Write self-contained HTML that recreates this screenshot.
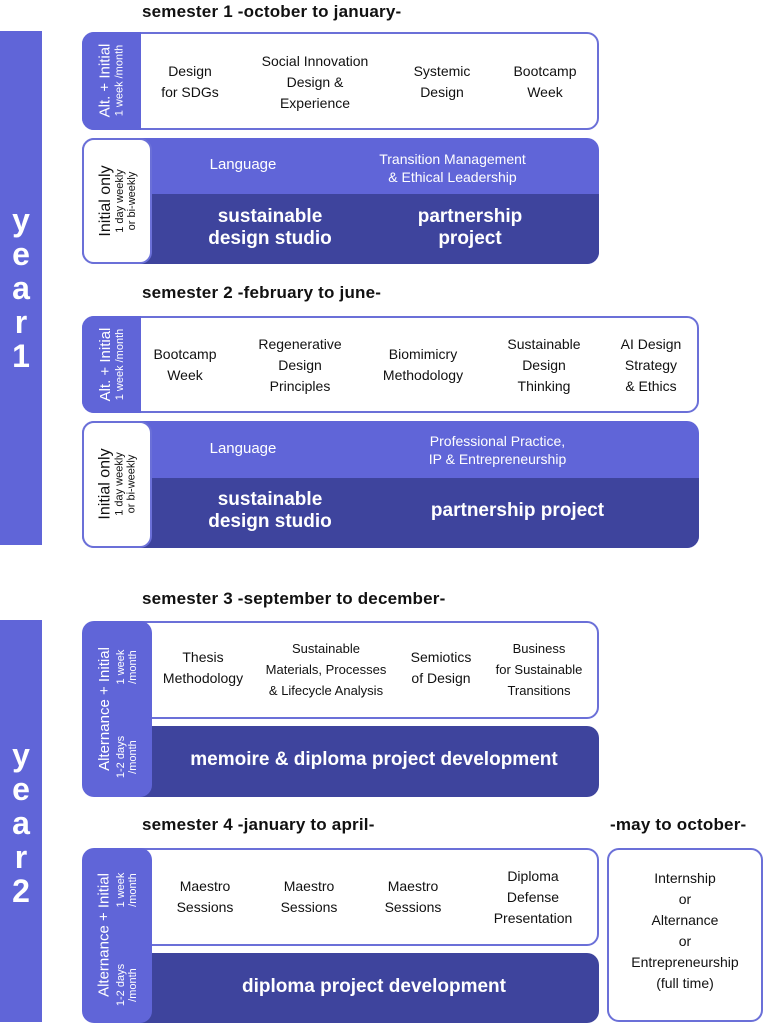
<!DOCTYPE html>
<html><head><meta charset="utf-8"><style>
*{margin:0;padding:0;box-sizing:border-box}
body{width:764px;height:1024px;background:#fff;position:relative;overflow:hidden;font-family:"Liberation Sans",sans-serif;color:#111}
.a{position:absolute}
.c{position:absolute;display:flex;align-items:center;justify-content:center;text-align:center;font-size:14px;line-height:21px}
.h{font-weight:bold;font-size:17px;color:#111;letter-spacing:0.2px}
.L{background:#6065d8}
.D{background:#3e449d}
.w{color:#fff}
.big{color:#fff;font-weight:bold;font-size:19px;line-height:22px}
.wb{background:#fff;border:2px solid #6b70d8}
.r{position:absolute;transform:rotate(-90deg);display:flex;flex-direction:column;align-items:center;justify-content:center;text-align:center;white-space:nowrap}
.r .m{font-size:15px;line-height:17px}
.r .s{font-size:11px;line-height:12px}
.yr{position:absolute;left:6px;width:30px;color:#fff;font-weight:bold;font-size:32px;text-align:center;line-height:34px}
</style></head><body>
<!-- Year bars -->
<div class="a L" style="left:0;top:31px;width:42px;height:514px"></div>
<div class="yr" style="top:203px">y<br>e<br>a<br>r<br>1</div>
<div class="a L" style="left:0;top:620px;width:42px;height:402px"></div>
<div class="yr" style="top:738px">y<br>e<br>a<br>r<br>2</div>

<!-- Semester 1 -->
<div class="a h" style="left:142px;top:2px">semester 1 -october to january-</div>
<div class="a wb" style="left:82px;top:32px;width:517px;height:98px;border-radius:12px"></div>
<div class="a L" style="left:82px;top:32px;width:59px;height:98px;border-radius:12px 0 0 12px"></div>
<div class="r w" style="left:62px;top:51px;width:98px;height:59px"><div class="m">Alt. + Initial</div><div class="s">1 week /month</div></div>
<div class="c" style="left:150px;top:60px;width:80px;height:44px">Design<br>for SDGs</div>
<div class="c" style="left:250px;top:50px;width:130px;height:64px">Social Innovation<br>Design &amp;<br>Experience</div>
<div class="c" style="left:400px;top:60px;width:84px;height:44px">Systemic<br>Design</div>
<div class="c" style="left:500px;top:60px;width:90px;height:44px">Bootcamp<br>Week</div>

<div class="a L" style="left:82px;top:138px;width:517px;height:126px;border-radius:12px"></div>
<div class="a D" style="left:140px;top:194px;width:459px;height:70px;border-radius:0 0 12px 0"></div>
<div class="a wb" style="left:82px;top:138px;width:70px;height:126px;border-radius:12px"></div>
<div class="r" style="left:54px;top:166px;width:126px;height:70px"><div class="m" style="font-size:16px">Initial only</div><div class="s">1 day weekly<br>or bi-weekly</div></div>
<div class="c w" style="left:180px;top:152px;width:126px;height:24px;font-size:15px">Language</div>
<div class="c w" style="left:350px;top:148px;width:205px;height:40px;font-size:14px;line-height:18px">Transition Management<br>&amp; Ethical Leadership</div>
<div class="c big" style="left:190px;top:204px;width:160px;height:48px">sustainable<br>design studio</div>
<div class="c big" style="left:390px;top:204px;width:160px;height:48px">partnership<br>project</div>

<!-- Semester 2 -->
<div class="a h" style="left:142px;top:283px">semester 2 -february to june-</div>
<div class="a wb" style="left:82px;top:316px;width:617px;height:97px;border-radius:12px"></div>
<div class="a L" style="left:82px;top:316px;width:59px;height:97px;border-radius:12px 0 0 12px"></div>
<div class="r w" style="left:63px;top:335px;width:97px;height:59px"><div class="m">Alt. + Initial</div><div class="s">1 week /month</div></div>
<div class="c" style="left:140px;top:343px;width:90px;height:44px">Bootcamp<br>Week</div>
<div class="c" style="left:240px;top:333px;width:120px;height:64px">Regenerative<br>Design<br>Principles</div>
<div class="c" style="left:375px;top:343px;width:96px;height:44px">Biomimicry<br>Methodology</div>
<div class="c" style="left:494px;top:333px;width:100px;height:64px">Sustainable<br>Design<br>Thinking</div>
<div class="c" style="left:606px;top:333px;width:90px;height:64px">AI Design<br>Strategy<br>&amp; Ethics</div>

<div class="a L" style="left:82px;top:421px;width:617px;height:127px;border-radius:12px"></div>
<div class="a D" style="left:140px;top:478px;width:559px;height:70px;border-radius:0 0 12px 0"></div>
<div class="a wb" style="left:82px;top:421px;width:70px;height:127px;border-radius:12px"></div>
<div class="r" style="left:53px;top:449px;width:127px;height:70px"><div class="m" style="font-size:16px">Initial only</div><div class="s">1 day weekly<br>or bi-weekly</div></div>
<div class="c w" style="left:180px;top:436px;width:126px;height:24px;font-size:15px">Language</div>
<div class="c w" style="left:395px;top:430px;width:205px;height:40px;font-size:14px;line-height:18px">Professional Practice,<br>IP &amp; Entrepreneurship</div>
<div class="c big" style="left:190px;top:487px;width:160px;height:48px">sustainable<br>design studio</div>
<div class="c big" style="left:390px;top:498px;width:255px;height:26px">partnership project</div>

<!-- Semester 3 -->
<div class="a h" style="left:142px;top:589px">semester 3 -september to december-</div>
<div class="a wb" style="left:140px;top:621px;width:459px;height:98px;border-radius:0 12px 12px 0"></div>
<div class="a D" style="left:140px;top:726px;width:459px;height:71px;border-radius:0 12px 12px 0"></div>
<div class="a L" style="left:82px;top:621px;width:70px;height:176px;border-radius:12px"></div>
<div class="r w" style="left:16px;top:699px;width:176px;height:20px"><div class="m">Alternance + Initial</div></div>
<div class="r w" style="left:82px;top:652px;width:90px;height:30px"><div class="s">1 week<br>/month</div></div>
<div class="r w" style="left:82px;top:742px;width:90px;height:30px"><div class="s">1-2 days<br>/month</div></div>
<div class="c" style="left:158px;top:646px;width:90px;height:44px">Thesis<br>Methodology</div>
<div class="c" style="left:258px;top:637px;width:136px;height:64px;font-size:13px">Sustainable<br>Materials, Processes<br>&amp; Lifecycle Analysis</div>
<div class="c" style="left:400px;top:646px;width:82px;height:44px">Semiotics<br>of Design</div>
<div class="c" style="left:488px;top:637px;width:102px;height:64px;font-size:13px">Business<br>for Sustainable<br>Transitions</div>
<div class="c big" style="left:152px;top:747px;width:444px;height:26px">memoire &amp; diploma project development</div>

<!-- Semester 4 -->
<div class="a h" style="left:142px;top:815px">semester 4 -january to april-</div>
<div class="a h" style="left:610px;top:815px">-may to october-</div>
<div class="a wb" style="left:140px;top:848px;width:459px;height:98px;border-radius:0 12px 12px 0"></div>
<div class="a D" style="left:140px;top:953px;width:459px;height:70px;border-radius:0 12px 12px 0"></div>
<div class="a L" style="left:82px;top:848px;width:70px;height:175px;border-radius:12px"></div>
<div class="r w" style="left:16px;top:925px;width:175px;height:20px"><div class="m">Alternance + Initial</div></div>
<div class="r w" style="left:82px;top:875px;width:90px;height:30px"><div class="s">1 week<br>/month</div></div>
<div class="r w" style="left:82px;top:970px;width:90px;height:30px"><div class="s">1-2 days<br>/month</div></div>
<div class="c" style="left:160px;top:875px;width:90px;height:44px">Maestro<br>Sessions</div>
<div class="c" style="left:264px;top:875px;width:90px;height:44px">Maestro<br>Sessions</div>
<div class="c" style="left:368px;top:875px;width:90px;height:44px">Maestro<br>Sessions</div>
<div class="c" style="left:478px;top:865px;width:110px;height:64px">Diploma<br>Defense<br>Presentation</div>
<div class="c big" style="left:152px;top:974px;width:444px;height:26px">diploma project development</div>

<div class="a wb" style="left:607px;top:848px;width:156px;height:174px;border-radius:12px"></div>
<div class="c" style="left:607px;top:868px;width:156px;height:126px">Internship<br>or<br>Alternance<br>or<br>Entrepreneurship<br>(full time)</div>
</body></html>
